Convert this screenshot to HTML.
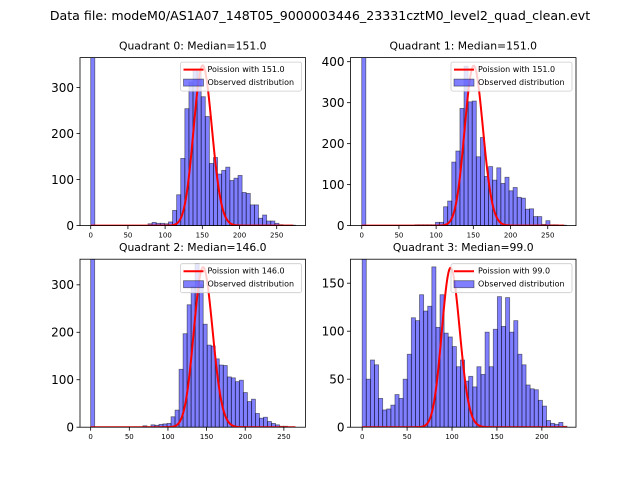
<!DOCTYPE html>
<html><head><meta charset="utf-8"><style>
html,body{margin:0;padding:0;background:#fff;}
svg{display:block;font-family:"DejaVu Sans","Liberation Sans",sans-serif;}
</style></head><body>
<svg id="fig" width="640" height="480" viewBox="0 0 640 480">
<rect x="0" y="0" width="640" height="480" fill="#fff"/>
<text x="320" y="20" text-anchor="middle" font-size="12.6" fill="#000">Data file: modeM0/AS1A07_148T05_9000003446_23331cztM0_level2_quad_clean.evt</text>
</svg>
<script>
// Per-quadrant data
const quadTitles = ["Quadrant 0: Median=151.0","Quadrant 1: Median=151.0","Quadrant 2: Median=146.0","Quadrant 3: Median=99.0"];
const poissonMu = [151, 151, 146, 99];
const poissonPeak = [348, 390, 337, 166];
const poissonEnd = [272, 272, 265, 228];
const legendLabels = ["Poission with 151.0","Poission with 151.0","Poission with 146.0","Poission with 99.0"];
const binWidths = [5.5, 5.5, 5.2, 4.56];
const counts0 = [1000,0,0,0,0,0,0,0,0,0,0,0,0,0,4,7,5,5,4,8,33,67,146,254,312,340,335,280,237,135,148,112,120,127,98,103,109,72,70,45,45,16,23,10,10,5,2,1,1,1];
const counts1 = [1000,0,0,0,0,0,0,0,0,0,0,0,0,2,2,2,2,2,8,8,46,60,155,182,286,389,302,304,168,215,120,144,111,141,103,118,85,93,69,67,40,41,22,22,3,12,2,2,1,1];
const counts2 = [1000,0,0,0,0,0,0,0,0,0,0,0,0,3,1,5,4,6,7,8,22,36,122,197,258,296,345,300,217,173,171,144,131,130,106,104,96,99,73,54,59,29,19,21,12,8,5,2,2,0];
const counts3 = [1000,50,70,65,30,18,19,23,34,30,50,76,114,111,138,121,126,167,104,138,98,94,84,63,70,48,53,42,63,55,99,63,102,136,105,135,99,111,76,65,44,40,39,28,22,7,4,3,5,1];
const allCounts = [counts0, counts1, counts2, counts3];
const xLims = [[-14.4,288.7],[-15.1,288],[-13.8,278],[-13,238]];
const yMaxes = [365, 410, 354, 175];
const yTicks = [[0,100,200,300],[0,100,200,300,400],[0,100,200,300],[0,50,100,150]];
const xTicks = [[0,50,100,150,200,250],[0,50,100,150,200,250],[0,50,100,150,200,250],[0,50,100,150,200]];

const NS = "http://www.w3.org/2000/svg";
const svg = document.getElementById('fig');
const boxes = [[80,57.6,305.5,225.6],[350.5,57.6,576,225.6],[80,259.2,305.5,427.2],[350.5,259.2,576,427.2]];
function mk(tag, attrs, parent){const e=document.createElementNS(NS,tag);for(const k in attrs)e.setAttribute(k,attrs[k]);(parent||svg).appendChild(e);return e;}
function lnFact(n){let s=0;for(let i=2;i<=n;i++)s+=Math.log(i);return s;}
function pmfLog(k,mu){return k*Math.log(mu)-mu-lnFact(k);}

for(let q=0;q<4;q++){
  const [L,T,R,B]=boxes[q];
  const [xa,xb]=xLims[q];
  const sx=v=>L+(v-xa)/(xb-xa)*(R-L);
  const sy=v=>B-v/yMaxes[q]*(B-T);
  const g=mk('g',{});
  
  
  const cp=mk('clipPath',{id:'clip'+q},g);
  mk('rect',{x:L,y:T,width:R-L,height:B-T},cp);
  const bars=mk('g',{'clip-path':'url(#clip'+q+')'},g);
  
  
  const c=allCounts[q], w=binWidths[q];
  for(let i=0;i<c.length;i++){
    if(c[i]<=0)continue;
    const x0=sx(i*w), x1=sx((i+1)*w), y=sy(c[i]);
    const r=mk('rect',{x:x0,y:y,width:x1-x0,height:B-y,fill:'rgba(0,0,255,0.5)',stroke:'rgba(0,0,0,0.5)','stroke-width':0.8},bars);
    
    
  }
  const mu=poissonMu[q], ref=pmfLog(Math.round(mu),mu);
  let d='';
  for(let k=0;k<=poissonEnd[q];k++){
    const v=poissonPeak[q]*Math.exp(pmfLog(k,mu)-ref);
    d+=(k?'L':'M')+sx(k).toFixed(2)+' '+sy(v).toFixed(2);
  }
  const pl=mk('path',{d:d,fill:'none',stroke:'#ff0000','stroke-width':2,'stroke-linejoin':'round'},bars);
  
  
  const fr=mk('rect',{x:L,y:T,width:R-L,height:B-T,fill:'none',stroke:'#000','stroke-width':0.8},g);
  
  
  yTicks[q].forEach(t=>{
    const y=sy(t);
    mk('line',{x1:L-3.5,x2:L,y1:y,y2:y,stroke:'#000','stroke-width':0.8},g);
    const tx=mk('text',{x:L-6,y:y+4.3,'text-anchor':'end','font-size':12,fill:'#000'},g);
    tx.textContent=t;
    
    
  });
  xTicks[q].forEach(t=>{
    const x=sx(t);
    mk('line',{x1:x,x2:x,y1:B,y2:B+3.5,stroke:'#000','stroke-width':0.8},g);
    const tx=mk('text',{x:x,y:B+12,'text-anchor':'middle','font-size':7,fill:'#000'},g);
    tx.textContent=t;
    
    
  });
  const tt=mk('text',{x:(L+R)/2,y:T-8,'text-anchor':'middle','font-size':10.8,fill:'#000'},g);
  tt.textContent=quadTitles[q];
  
  
  const lg=mk('g',{},g);
  
  
  const lx=R-125, ly=T+4.5;
  mk('rect',{x:lx,y:ly,width:121,height:29,rx:2,fill:'rgba(255,255,255,0.8)',stroke:'#ccc','stroke-width':0.8},lg);
  mk('line',{x1:lx+3,x2:lx+23,y1:ly+7.5,y2:ly+7.5,stroke:'#ff0000','stroke-width':2},lg);
  mk('rect',{x:lx+3,y:ly+17,width:20,height:7,fill:'rgba(0,0,255,0.5)',stroke:'rgba(0,0,0,0.5)','stroke-width':0.8},lg);
  const t1=mk('text',{x:lx+27,y:ly+10,'font-size':8,fill:'#000'},lg);
  t1.textContent=legendLabels[q];
  
  
  const t2=mk('text',{x:lx+27,y:ly+23,'font-size':8,fill:'#000'},lg);
  t2.textContent='Observed distribution';
  
  
}
</script>
</body></html>
